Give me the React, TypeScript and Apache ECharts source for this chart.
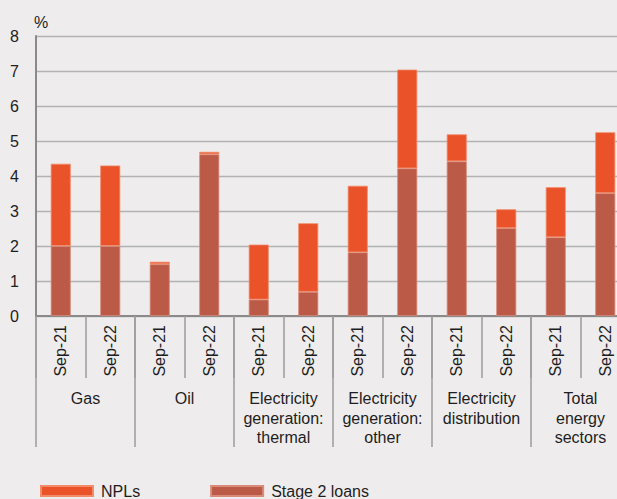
import React, { useEffect, useRef } from "react";
import * as echarts from "echarts";

// Sector groups and the two reporting dates shown for each
const groups = [
  "Gas",
  "Oil",
  "Electricity\ngeneration:\nthermal",
  "Electricity\ngeneration:\nother",
  "Electricity\ndistribution",
  "Total\nenergy\nsectors",
];
const periods = ["Sep-21", "Sep-22"];

// Share of loans, per cent (Sep-21, Sep-22 for each group in order)
const stage2Loans = [2.0, 2.0, 1.48, 4.62, 0.47, 0.69, 1.82, 4.22, 4.42, 2.51, 2.25, 3.51];
const npls = [2.35, 2.3, 0.07, 0.07, 1.57, 1.96, 1.9, 2.82, 0.77, 0.54, 1.43, 1.74];

const yTicks = [0, 1, 2, 3, 4, 5, 6, 7, 8];

const FONT = "'Liberation Sans', Arial, Helvetica, sans-serif";
const TEXT = "#1e1e1e";
const AXIS = "#8a8a8a";
const SEP = "#9c9c9c";

export default function App() {
  const ref = useRef<HTMLDivElement>(null);

  useEffect(() => {
    document.body.style.margin = "0";
    if (!ref.current) return;
    const chart = echarts.init(ref.current, null, { renderer: "svg" });

    const categories: string[] = [];
    groups.forEach((g, gi) => periods.forEach((p) => categories.push(`${gi}|${p}`)));

    chart.setOption({
      animation: false,
      backgroundColor: "#eeeced",
      textStyle: { fontFamily: FONT },
      // plot area runs a little past the right edge of the canvas
      grid: {
        left: 36,
        top: 36,
        width: 594,
        height: 280,
        containLabel: false,
        outerBoundsMode: "none",
      },
      graphic: [
        {
          type: "text",
          left: 34,
          top: 14,
          style: { text: "%", fontSize: 16, fill: TEXT, fontFamily: FONT },
        },
      ],
      legend: {
        left: 35,
        top: 478,
        itemWidth: 52,
        itemHeight: 10,
        itemGap: 70,
        icon: "rect",
        textStyle: { fontSize: 16, color: TEXT, fontFamily: FONT, padding: [0, 0, 0, 3] },
        data: ["NPLs", "Stage 2 loans"],
      },
      xAxis: [
        {
          type: "category",
          data: categories,
          position: "bottom",
          axisLine: { show: true, lineStyle: { color: AXIS, width: 2 } },
          axisTick: { show: true, interval: 0, length: 62, lineStyle: { color: SEP, width: 1.5 } },
          axisLabel: {
            interval: 0,
            rotate: 90,
            margin: 9,
            fontSize: 16,
            color: TEXT,
            fontFamily: FONT,
            formatter: (v: string) => v.split("|")[1],
          },
        },
        {
          type: "category",
          data: groups,
          position: "bottom",
          axisLine: { show: false },
          axisTick: { show: true, interval: 0, length: 131, lineStyle: { color: SEP, width: 1.5 } },
          axisLabel: {
            interval: 0,
            margin: 73,
            fontSize: 16,
            lineHeight: 19.5,
            color: TEXT,
            fontFamily: FONT,
            align: "center",
          },
        },
      ],
      yAxis: {
        type: "value",
        min: yTicks[0],
        max: yTicks[yTicks.length - 1],
        interval: 1,
        axisLine: { show: true, lineStyle: { color: AXIS, width: 2 } },
        axisTick: { show: false },
        axisLabel: { fontSize: 16, color: TEXT, margin: 17, fontFamily: FONT },
        splitLine: { show: true, lineStyle: { color: "#b2b2b2", width: 1.3 } },
      },
      series: [
        {
          name: "Stage 2 loans",
          type: "bar",
          stack: "total",
          barWidth: 20,
          data: stage2Loans,
          itemStyle: { color: "#bb5a47", borderColor: "#d98a78", borderWidth: 0.8 },
        },
        {
          name: "NPLs",
          type: "bar",
          stack: "total",
          barWidth: 20,
          data: npls,
          itemStyle: { color: "#ea532a", borderColor: "#f38a68", borderWidth: 0.8 },
        },
      ],
    });

    return () => chart.dispose();
  }, []);

  return <div ref={ref} style={{ width: 617, height: 499 }} />;
}
